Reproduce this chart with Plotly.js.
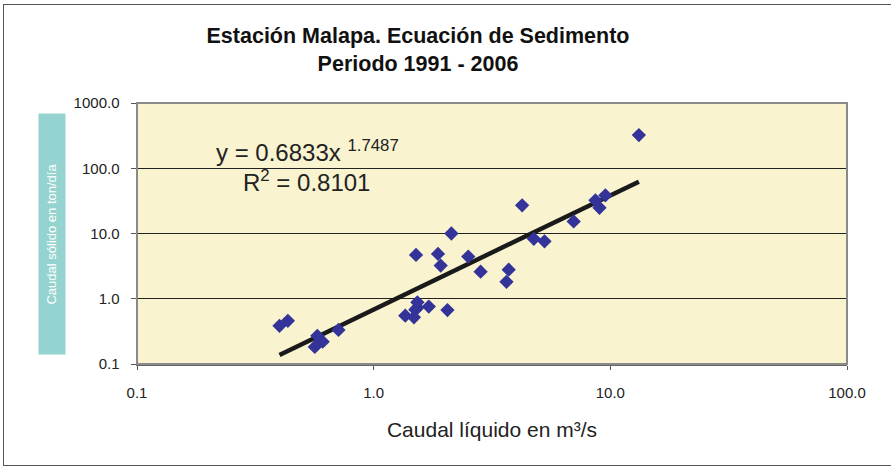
<!DOCTYPE html>
<html>
<head>
<meta charset="utf-8">
<script src="https://cdn.plot.ly/plotly-3.0.1.min.js"></script>
<style>
html,body{margin:0;padding:0;background:#fff;overflow:hidden;}
#wrap{position:relative;width:891px;height:469px;overflow:hidden;}
#frame{position:absolute;left:3px;top:4px;width:900px;height:462px;border:1px solid #555;box-sizing:border-box;pointer-events:none;}
#chart{position:absolute;left:0;top:0;width:891px;height:469px;}
</style>
</head>
<body>
<div id="wrap">
<div id="chart"></div>
<div id="frame"></div>
</div>
<script>
// Observed data (Caudal líquido m³/s vs Caudal sólido ton/día)
const caudalLiquido = [0.40, 0.434, 0.564, 0.578, 0.609, 0.71, 1.36, 1.48, 1.50, 1.53, 1.53, 1.51, 1.71, 2.05, 1.87, 1.92, 2.13, 2.51, 2.83, 3.64, 3.72, 4.24, 4.75, 5.27, 7.0, 8.65, 9.0, 9.53, 13.2];
const caudalSolido  = [0.385, 0.459, 0.183, 0.27, 0.22, 0.333, 0.55, 0.52, 0.68, 0.73, 0.88, 4.7, 0.76, 0.67, 4.87, 3.22, 10.0, 4.43, 2.6, 1.82, 2.79, 27.0, 8.3, 7.6, 15.3, 32.2, 24.8, 38.5, 322];
// Power trendline coefficients (as shown on chart)
const coefA = 0.6833;
const coefB = 1.7487;
const r2 = 0.8101;
const tickVals = [0.1, 1, 10, 100, 1000];
const tickText = ["0.1", "1.0", "10.0", "100.0", "1000.0"];

const trendX = caudalLiquido.slice().sort((a, b) => a - b);
const trendY = trendX.map(x => coefA * Math.pow(x, coefB));

const traces = [
  {
    x: trendX, y: trendY, type: 'scatter', mode: 'lines',
    line: {color: '#1a1a1a', width: 4.5}, hoverinfo: 'skip'
  },
  {
    x: caudalLiquido, y: caudalSolido, type: 'scatter', mode: 'markers',
    marker: {symbol: 'diamond', size: 11, color: '#333399', line: {width: 0}}
  }
];

const ff = 'Liberation Sans, Arial, sans-serif';

const layout = {
  width: 891, height: 469,
  margin: {l: 137, r: 44, t: 103, b: 105},
  paper_bgcolor: '#ffffff',
  plot_bgcolor: '#f9f3d0',
  showlegend: false,
  font: {family: ff, color: '#222'},
  title: {
    text: '<b>Estación Malapa. Ecuación de Sedimento</b><br><b>Periodo 1991 - 2006</b>',
    x: 418 / 891, xanchor: 'center', y: 1 - 43 / 469, yanchor: 'middle',
    font: {family: ff, size: 21.5, color: '#111'}
  },
  xaxis: {
    type: 'log', range: [-1, 2], tickvals: tickVals.slice(0, 4), ticktext: tickText.slice(0, 4),
    ticks: 'outside', ticklen: 4, tickcolor: '#555', showgrid: false, zeroline: false,
    showline: true, linecolor: '#666', linewidth: 1.5, mirror: false,
    tickfont: {size: 15, color: '#222'}, ticklabelstandoff: 10,
    title: {text: 'Caudal líquido en m³/s', font: {size: 21, color: '#222'}, standoff: 23}
  },
  yaxis: {
    type: 'log', range: [-1, 3], tickvals: tickVals, ticktext: tickText,
    ticks: 'outside', ticklen: 5, tickcolor: '#555', showgrid: true, gridcolor: '#222', gridwidth: 1,
    zeroline: false, showline: true, linecolor: '#666', linewidth: 1.5, mirror: false,
    tickfont: {size: 15, color: '#222'}, ticklabelstandoff: 8
  },
  shapes: [
    {type: 'rect', xref: 'paper', yref: 'paper', x0: 0, x1: 1, y0: 0, y1: 1,
     line: {color: '#8a8a8a', width: 2}, fillcolor: 'rgba(0,0,0,0)'}
  ],
  annotations: [
    {
      xref: 'paper', yref: 'paper', x: 0.108, y: 0.815, xanchor: 'left', yanchor: 'middle',
      text: 'y = ' + coefA.toFixed(4) + 'x <sup>' + coefB.toFixed(4) + '</sup>', showarrow: false,
      font: {size: 24, color: '#222', family: ff}
    },
    {
      xref: 'paper', yref: 'paper', x: 0.147, y: 0.7, xanchor: 'left', yanchor: 'middle',
      text: 'R<sup>2</sup> = ' + r2.toFixed(4), showarrow: false,
      font: {size: 24, color: '#222', family: ff}
    },
    {
      xref: 'paper', yref: 'paper', x: -99 / 710, y: 0.498, xanchor: 'left', yanchor: 'middle',
      text: 'Caudal sólido en ton/día', showarrow: false, textangle: -90,
      bgcolor: '#94d3cf', width: 238, height: 24,
      font: {size: 13, color: '#ffffff', family: ff}
    }
  ]
};

Plotly.newPlot('chart', traces, layout, {displayModeBar: false, staticPlot: true});
</script>
</body>
</html>
